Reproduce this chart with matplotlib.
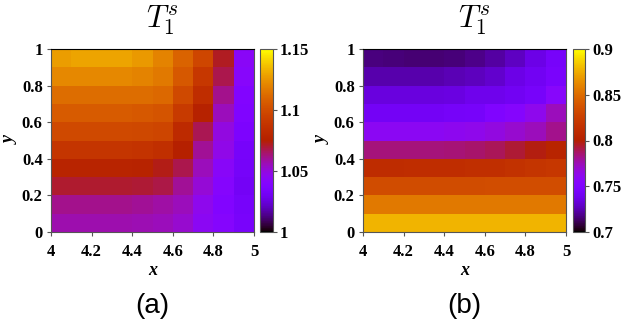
import numpy as np
import matplotlib
matplotlib.use("Agg")
import matplotlib.pyplot as plt

plt.rcParams['mathtext.fontset'] = 'cm'

# grid edges
x_edges = np.linspace(4, 5, 11)
y_edges = np.linspace(0, 1, 11)

# panel (a) values, rows from y=0 upward, columns x=4.0 ... 4.9
Ta = [
    [1.057, 1.057, 1.057, 1.057, 1.0563, 1.0555, 1.0525, 1.045, 1.0405, 1.0338],
    [1.0615, 1.0615, 1.0615, 1.0615, 1.060, 1.0585, 1.0555, 1.0465, 1.039, 1.033],
    [1.0705, 1.0705, 1.0705, 1.0705, 1.070, 1.068, 1.060, 1.051, 1.0405, 1.0315],
    [1.078, 1.078, 1.078, 1.078, 1.0773, 1.0728, 1.0675, 1.0555, 1.0428, 1.0323],
    [1.0885, 1.0885, 1.0885, 1.0885, 1.0878, 1.0855, 1.075, 1.060, 1.048, 1.033],
    [1.099, 1.099, 1.099, 1.099, 1.098, 1.097, 1.0825, 1.067, 1.0495, 1.036],
    [1.1065, 1.1065, 1.1065, 1.1065, 1.105, 1.1035, 1.0915, 1.0765, 1.0555, 1.0375],
    [1.113, 1.113, 1.113, 1.113, 1.1125, 1.111, 1.099, 1.084, 1.0615, 1.039],
    [1.1215, 1.1215, 1.1215, 1.1215, 1.120, 1.117, 1.105, 1.090, 1.0675, 1.042],
    [1.1275, 1.129, 1.129, 1.129, 1.126, 1.120, 1.1095, 1.0975, 1.072, 1.0435],
]

# panel (b) values
Tb = [
    [0.878, 0.878, 0.878, 0.878, 0.878, 0.878, 0.878, 0.878, 0.878, 0.878],
    [0.856, 0.856, 0.856, 0.856, 0.856, 0.856, 0.856, 0.856, 0.856, 0.856],
    [0.833, 0.833, 0.833, 0.833, 0.833, 0.8334, 0.8336, 0.834, 0.834, 0.834],
    [0.811, 0.811, 0.812, 0.812, 0.812, 0.814, 0.814, 0.816, 0.818, 0.820],
    [0.784, 0.784, 0.784, 0.784, 0.785, 0.786, 0.789, 0.793, 0.798, 0.804],
    [0.760, 0.760, 0.760, 0.760, 0.761, 0.763, 0.766, 0.770, 0.774, 0.782],
    [0.742, 0.742, 0.742, 0.742, 0.743, 0.744, 0.750, 0.754, 0.762, 0.774],
    [0.734, 0.734, 0.734, 0.734, 0.735, 0.738, 0.738, 0.740, 0.744, 0.756],
    [0.724, 0.724, 0.724, 0.724, 0.725, 0.727, 0.730, 0.736, 0.740, 0.746],
    [0.717, 0.716, 0.715, 0.715, 0.716, 0.718, 0.722, 0.728, 0.736, 0.744],
]

x_ticks = [4, 4.2, 4.4, 4.6, 4.8, 5]
x_ticklabels = ["4", "4.2", "4.4", "4.6", "4.8", "5"]
y_ticks = [0, 0.2, 0.4, 0.6, 0.8, 1]
y_ticklabels = ["0", "0.2", "0.4", "0.6", "0.8", "1"]

cb_a_ticks = [1, 1.05, 1.1, 1.15]
cb_a_labels = ["1", "1.05", "1.1", "1.15"]
cb_b_ticks = [0.7, 0.75, 0.8, 0.85, 0.9]
cb_b_labels = ["0.7", "0.75", "0.8", "0.85", "0.9"]

W, H = 623, 322
fig = plt.figure(figsize=(W / 100, H / 100), dpi=100)

def px(l, t, w, h):
    return [l / W, 1 - (t + h) / H, w / W, h / H]

tickfont = dict(family="Liberation Serif", weight="bold", size=12)
spine_col = "#555555"

def panel(ax_rect, cb_rect, data, vlims, cbt, cbl, letter):
    ax = fig.add_axes(px(*ax_rect))
    cax = fig.add_axes(px(*cb_rect))
    m = ax.pcolormesh(x_edges, y_edges, np.array(data), cmap="gnuplot",
                      vmin=vlims[0], vmax=vlims[1])
    ax.set_xlim(4, 5)
    ax.set_ylim(0, 1)
    ax.set_xticks(x_ticks)
    ax.set_xticklabels(x_ticklabels, fontdict=tickfont)
    ax.set_yticks(y_ticks)
    ax.set_yticklabels(y_ticklabels, fontdict=tickfont)
    ax.tick_params(length=3, width=0.8, color=spine_col)
    ax.tick_params(axis="x", pad=6)
    ax.tick_params(axis="y", pad=3)
    ax.set_xlabel("x", family="Liberation Serif", weight="bold", style="italic",
                  size=13, labelpad=1)
    ax.set_ylabel("y", family="Liberation Serif", weight="bold", style="italic",
                  size=13, labelpad=2)
    for s in ax.spines.values():
        s.set_color(spine_col)
        s.set_linewidth(0.8)
    ax.spines["top"].set_color("black")

    cb = fig.colorbar(m, cax=cax)
    cb.set_ticks(cbt)
    cb.set_ticklabels(cbl)
    for lab in cax.get_yticklabels():
        lab.set_fontproperties(matplotlib.font_manager.FontProperties(**tickfont))
    cax.tick_params(length=3, width=0.8, color=spine_col, pad=2)
    cb.outline.set_edgecolor(spine_col)
    cb.outline.set_linewidth(0.8)

    l, t, w, h = ax_rect
    cl, ct, cw, ch = cb_rect
    xc = (l + cl + cw) / 2
    fig.text(xc / W, 1 - 3 / H, r"$T_1^s$", ha="center", va="top", size=22)
    fig.text((l + w / 2) / W, 1 - 306 / H, letter, ha="center", va="center",
             family="Liberation Sans", size=20)
    return ax

panel((51, 49, 203, 183), (260, 49, 13, 183), Ta, (1.0, 1.15),
      cb_a_ticks, cb_a_labels, "(a)")
panel((363, 49, 203, 183), (573, 49, 12, 183), Tb, (0.7, 0.9),
      cb_b_ticks, cb_b_labels, "(b)")

fig.savefig("out.png", dpi=100)
